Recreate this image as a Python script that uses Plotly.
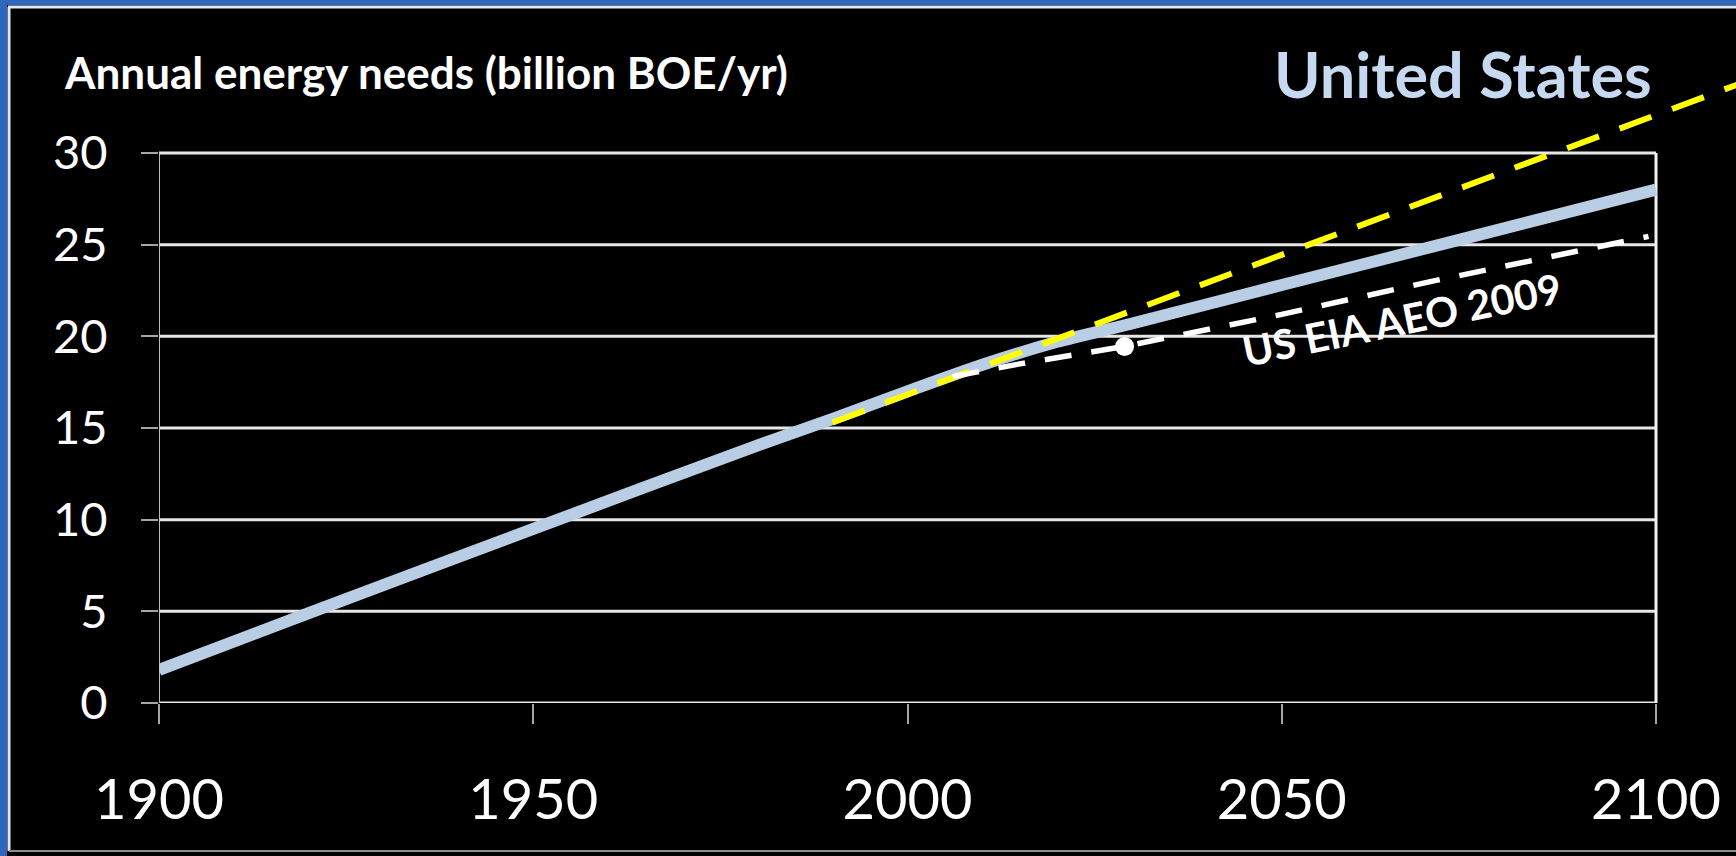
import plotly.graph_objects as go

# ---- data -------------------------------------------------------------
us_years = [1900, 1920, 1950, 1980, 1990, 2000, 2010, 2020, 2030, 2050, 2075, 2100]
us_needs = [1.8, 4.9, 9.5, 14.05, 15.5, 17.0, 18.45, 19.7, 20.7, 22.8, 25.4, 28.0]

trend_years = [1990, 2050, 2111]
trend_needs = [15.3, 24.45, 33.75]

eia_years = [2006, 2015, 2029, 2050, 2070, 2099]
eia_needs = [17.8, 18.5, 19.45, 21.2, 23.0, 25.45]

eia_point_year = [2029]
eia_point_value = [19.45]

x_ticks = [1900, 1950, 2000, 2050, 2100]
y_ticks = [0, 5, 10, 15, 20, 25, 30]

# ---- page geometry ----------------------------------------------------
W, H = 1736, 856
ML, MR, MT, MB = 159, 0, 60, 153
PW, PH = W - ML - MR, H - MT - MB
FONT = "Lato, 'Open Sans', sans-serif"


def px_x(px):
    return (px - ML) / PW


def px_y(py):
    return (H - MB - py) / PH


fig = go.Figure()

fig.add_trace(go.Scatter(
    x=us_years, y=us_needs, mode="lines",
    line=dict(color="#b9cde5", width=12, shape="spline", smoothing=0.6),
    hoverinfo="skip",
))
fig.add_trace(go.Scatter(
    x=trend_years, y=trend_needs, mode="lines",
    line=dict(color="#ffff00", width=6, dash="34px,22px"),
    hoverinfo="skip",
))
fig.add_trace(go.Scatter(
    x=eia_years, y=eia_needs, mode="lines",
    line=dict(color="#ffffff", width=5.5, dash="27px,20px"),
    hoverinfo="skip",
))
fig.add_trace(go.Scatter(
    x=eia_point_year, y=eia_point_value, mode="markers",
    marker=dict(color="#ffffff", size=19),
    hoverinfo="skip",
))

shapes = []
# horizontal gridlines spanning the 1900-2100 frame
for v in y_ticks:
    shapes.append(dict(type="line", xref="x", yref="y", x0=x_ticks[0], x1=x_ticks[-1],
                       y0=v, y1=v, line=dict(color="#e6e6e6", width=3), layer="below"))
# left axis line and right border of the plot frame
shapes.append(dict(type="line", xref="x", yref="y", x0=x_ticks[0], x1=x_ticks[0],
                   y0=y_ticks[0], y1=y_ticks[-1], line=dict(color="#bdbdbd", width=2), layer="below"))
shapes.append(dict(type="line", xref="x", yref="y", x0=x_ticks[-1], x1=x_ticks[-1],
                   y0=y_ticks[0], y1=y_ticks[-1], line=dict(color="#f2f2f2", width=3), layer="below"))

# slide frame: blue band with a thin light rule inside it
BLUE = "#2e67bd"
shapes.append(dict(type="rect", xref="paper", yref="paper",
                   x0=px_x(0), x1=px_x(W), y0=px_y(5), y1=px_y(0),
                   fillcolor=BLUE, line=dict(width=0)))
shapes.append(dict(type="rect", xref="paper", yref="paper",
                   x0=px_x(0), x1=px_x(7), y0=px_y(H), y1=px_y(0),
                   fillcolor=BLUE, line=dict(width=0)))
shapes.append(dict(type="line", xref="paper", yref="paper",
                   x0=px_x(8), x1=px_x(W), y0=px_y(7), y1=px_y(7),
                   line=dict(color="#e2e8f2", width=3)))
shapes.append(dict(type="line", xref="paper", yref="paper",
                   x0=px_x(9), x1=px_x(9), y0=px_y(7), y1=px_y(851),
                   line=dict(color="#e2e8f2", width=3)))
shapes.append(dict(type="line", xref="paper", yref="paper",
                   x0=px_x(9), x1=px_x(W), y0=px_y(851), y1=px_y(851),
                   line=dict(color="#8c8c8c", width=2)))

annotations = [
    dict(text="<b>Annual energy needs (billion BOE/yr)</b>", xref="paper", yref="paper",
         x=px_x(62), y=px_y(72), xanchor="left", yanchor="middle", showarrow=False,
         font=dict(family=FONT, size=44, color="#ffffff")),
    dict(text="<b>United States</b>", xref="paper", yref="paper",
         x=px_x(1654), y=px_y(74), xanchor="right", yanchor="middle", showarrow=False,
         font=dict(family=FONT, size=63, color="#c6d9f1")),
    dict(text="<b>US EIA AEO 2009</b>", xref="x", yref="y",
         x=2066, y=20.9, textangle=-11.5, showarrow=False,
         font=dict(family=FONT, size=41, color="#ffffff")),
]

fig.update_layout(
    width=W, height=H,
    margin=dict(l=ML, r=MR, t=MT, b=MB, pad=0),
    paper_bgcolor="#000000", plot_bgcolor="#000000",
    showlegend=False,
    shapes=shapes, annotations=annotations,
    xaxis=dict(range=[1900, 1900 + PW / 7.485], tickvals=x_ticks,
               ticks="outside", ticklen=20, tickwidth=2, tickcolor="#a6a6a6",
               tickfont=dict(family=FONT, size=56, color="#ffffff"),
               ticklabelstandoff=28,
               showgrid=False, zeroline=False, showline=False),
    yaxis=dict(range=[0, PH / 18.333], tickvals=y_ticks,
               ticks="outside", ticklen=17, tickwidth=2, tickcolor="#a6a6a6",
               tickfont=dict(family=FONT, size=47, color="#ffffff"),
               ticklabelstandoff=24,
               showgrid=False, zeroline=False, showline=False),
)

fig.write_html("out.html")
